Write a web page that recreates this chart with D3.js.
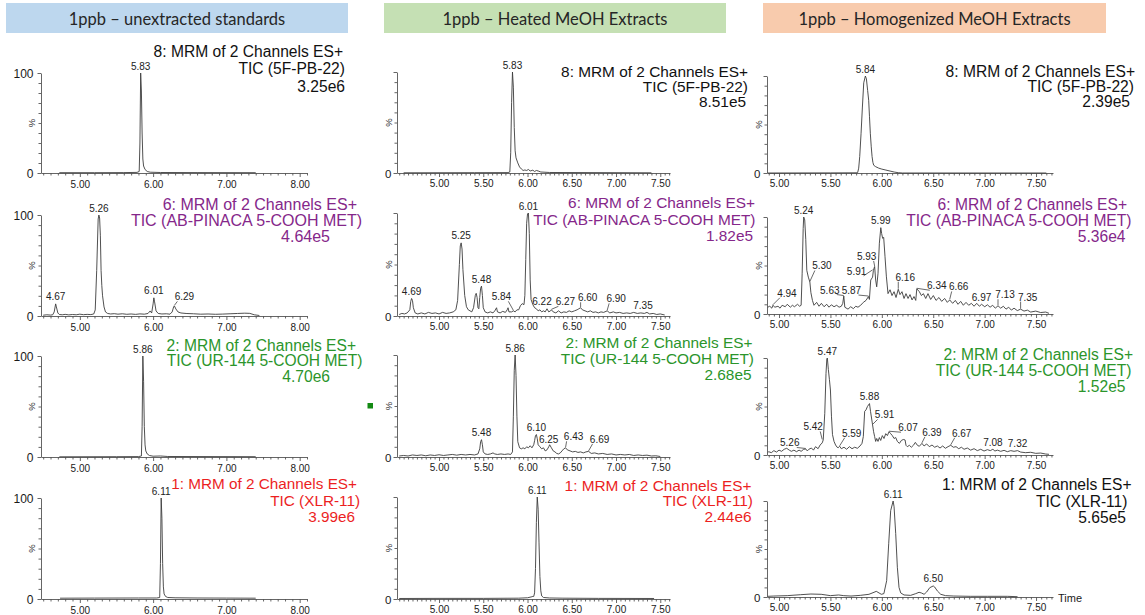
<!DOCTYPE html>
<html>
<head>
<meta charset="utf-8">
<script src="https://cdn.jsdelivr.net/npm/d3@7"></script>
<style>
  html, body { margin: 0; padding: 0; background: #fff; }
  svg { display: block; }
</style>
</head>
<body>
<svg id="chart" width="1145" height="615"></svg>
<script>
// ---------- sample groups ----------
const groupTitles = ["1ppb \u2013 unextracted standards", "1ppb \u2013 Heated MeOH Extracts", "1ppb \u2013 Homogenized MeOH Extracts"];

// ---------- channels (one row each) ----------
const channelNames = ["8: MRM of 2 Channels ES+", "6: MRM of 2 Channels ES+", "2: MRM of 2 Channels ES+", "1: MRM of 2 Channels ES+"];
const ticNames = ["TIC (5F-PB-22)", "TIC (AB-PINACA 5-COOH MET)", "TIC (UR-144 5-COOH MET)", "TIC (XLR-11)"];
const stdIntensity = ["3.25e6", "4.64e5", "4.70e6", "3.99e6"];
const heatIntensity = ["8.51e5", "1.82e5", "2.68e5", "2.44e6"];
const homIntensity = ["2.39e5", "5.36e4", "1.52e5", "5.65e5"];

// ---------- time axis tick labels ----------
const ticksStd = [5.00, 6.00, 7.00, 8.00];
const ticksExt = [5.00, 5.50, 6.00, 6.50, 7.00, 7.50];

// ---------- chromatograms: [retention time (min), relative intensity (%)] ----------
const stdPB22 = [[4.72,0.3],[5.20,0.3],[5.60,0.4],[5.78,0.6],[5.81,1.5],[5.82,30],[5.83,100],[5.84,82],[5.85,40],[5.86,14],[5.87,7],[5.89,3.5],[5.92,1.5],[5.96,0.8],[6.10,0.5],[6.60,0.4],[7.40,0.3]];
const stdABP = [[4.50,0.8],[4.55,1.2],[4.60,0.9],[4.63,1.2],[4.65,4],[4.67,12],[4.68,9],[4.70,3],[4.72,1.5],[4.76,1.2],[4.80,1.6],[4.85,1.1],[4.90,1.5],[4.95,1.2],[5.00,1.8],[5.05,1.3],[5.10,1.6],[5.15,1.4],[5.19,2],[5.21,6],[5.23,45],[5.25,96],[5.26,100],[5.27,97],[5.28,80],[5.29,45],[5.30,30],[5.31,20],[5.33,9],[5.35,4],[5.38,2.5],[5.42,2],[5.47,2.3],[5.52,1.8],[5.58,2.2],[5.64,1.7],[5.70,2],[5.76,1.6],[5.82,2.1],[5.88,1.8],[5.93,2.5],[5.96,5],[5.98,3],[6.00,12],[6.01,18],[6.02,14],[6.04,5],[6.07,2.5],[6.12,2],[6.18,2.2],[6.23,1.8],[6.26,4],[6.28,9],[6.29,10],[6.31,7],[6.34,4],[6.38,3],[6.45,2.5],[6.55,2.2],[6.65,1.8],[6.75,2],[6.85,1.7],[6.95,1.9],[7.05,2.2],[7.15,2.5],[7.25,2.8],[7.32,2.6],[7.38,1.2],[7.45,0.5]];
const stdUR144 = [[4.72,0.2],[5.50,0.3],[5.80,0.4],[5.84,1],[5.85,30],[5.86,100],[5.87,75],[5.88,30],[5.89,12],[5.90,6],[5.92,3],[5.95,1.5],[6.00,0.8],[6.10,1],[6.20,0.5],[7.40,0.3]];
const stdXLR11 = [[4.73,0.8],[5.20,0.9],[5.80,1],[6.05,1],[6.09,1.5],[6.10,35],[6.11,100],[6.12,80],[6.13,35],[6.14,12],[6.15,5],[6.17,2.5],[6.20,1.5],[6.30,1.2],[6.60,1],[7.00,0.9],[7.40,0.8]];

const heatPB22 = [[4.60,0.2],[5.40,0.3],[5.78,0.4],[5.80,1],[5.81,20],[5.82,70],[5.83,100],[5.84,85],[5.85,45],[5.86,22],[5.87,15],[5.89,10],[5.91,6],[5.93,4],[5.95,2.5],[5.97,3],[5.99,2.5],[6.01,3.5],[6.03,2],[6.06,2.8],[6.08,1.5],[6.10,2.5],[6.12,2],[6.15,1],[6.25,0.5],[7.00,0.3],[7.40,0.2]];
const heatABP = [[4.55,1.5],[4.58,2.5],[4.61,2],[4.64,3],[4.67,6],[4.68,14],[4.69,17],[4.70,15],[4.71,8],[4.73,3],[4.76,2],[4.80,3],[4.84,2],[4.88,3.5],[4.92,2.5],[4.96,3],[5.00,2],[5.04,3.5],[5.08,2.5],[5.12,3],[5.16,4],[5.19,6],[5.21,15],[5.23,50],[5.24,68],[5.25,71],[5.26,65],[5.27,45],[5.29,20],[5.31,9],[5.33,6],[5.35,5],[5.37,4],[5.39,8],[5.41,20],[5.42,22],[5.43,18],[5.44,8],[5.45,7],[5.46,18],[5.47,27],[5.48,29],[5.49,20],[5.50,8],[5.52,4],[5.55,3],[5.58,4],[5.61,3],[5.63,5],[5.65,8],[5.66,4],[5.69,3],[5.72,4.5],[5.75,3.5],[5.77,6],[5.78,8],[5.79,4],[5.82,4],[5.84,5],[5.86,4],[5.88,6],[5.90,6],[5.92,10],[5.94,12],[5.96,11],[5.97,20],[5.98,55],[5.99,90],[6.00,99],[6.01,100],[6.02,80],[6.03,35],[6.04,16],[6.06,11],[6.08,8],[6.10,7],[6.12,5],[6.14,6],[6.16,4],[6.18,5],[6.20,4],[6.22,7],[6.24,4],[6.26,5],[6.27,6],[6.29,4],[6.32,3],[6.35,5],[6.38,3],[6.41,4],[6.44,3.5],[6.47,5],[6.50,4],[6.53,5],[6.56,6],[6.58,7],[6.60,8],[6.62,6],[6.65,5],[6.68,4],[6.71,5],[6.74,3.5],[6.77,4],[6.80,3],[6.83,4],[6.86,3.5],[6.90,5],[6.93,3],[6.97,4],[7.00,3],[7.04,3.5],[7.08,2.5],[7.12,3],[7.16,2.5],[7.20,3.5],[7.24,2.5],[7.28,3],[7.32,2.5],[7.35,3.5],[7.38,2],[7.42,2.5],[7.46,1.5],[7.50,2],[7.55,1]];
const heatUR144 = [[4.55,1],[4.60,1.5],[4.65,1],[4.70,2],[4.75,1.5],[4.80,2],[4.85,1.2],[4.90,2],[4.95,1.5],[5.00,2.2],[5.05,1.5],[5.10,2],[5.15,2.5],[5.20,1.8],[5.25,2.5],[5.30,2],[5.35,2.5],[5.40,2],[5.44,3],[5.46,8],[5.47,15],[5.48,17],[5.49,12],[5.50,5],[5.52,3],[5.55,2.5],[5.58,3],[5.61,4],[5.63,3],[5.66,2.5],[5.70,3],[5.74,2.5],[5.78,3],[5.81,2.5],[5.83,5],[5.84,40],[5.85,85],[5.86,100],[5.87,80],[5.88,40],[5.89,15],[5.91,9],[5.93,8],[5.95,9],[5.97,8],[5.99,10],[6.01,9],[6.03,11],[6.05,9],[6.07,12],[6.08,16],[6.09,21],[6.10,22],[6.11,18],[6.12,12],[6.14,10],[6.16,8],[6.18,9],[6.20,6],[6.22,7],[6.24,10],[6.25,12],[6.27,9],[6.29,6],[6.31,5],[6.33,3.5],[6.35,3],[6.37,4],[6.39,6],[6.41,8],[6.43,9],[6.45,7],[6.48,6],[6.51,5],[6.54,5.5],[6.57,4.5],[6.60,5],[6.63,4],[6.66,5],[6.69,5.5],[6.72,3.5],[6.76,4],[6.80,3],[6.85,3.5],[6.90,2.5],[6.95,3],[7.00,2],[7.05,2.5],[7.10,2],[7.15,2.5],[7.20,1.5],[7.25,2],[7.30,1.5],[7.35,1.8],[7.40,1],[7.45,1.2],[7.50,0.5]];
const heatXLR11 = [[4.55,0.5],[5.00,0.6],[5.50,0.6],[5.90,0.8],[6.00,1.2],[6.04,2],[6.06,2.5],[6.07,2.5],[6.08,6],[6.09,30],[6.10,75],[6.11,100],[6.12,88],[6.13,55],[6.14,22],[6.15,8],[6.16,3],[6.18,1.5],[6.25,1],[6.40,0.8],[6.80,0.6],[7.43,0.5]];

const homPB22 = [[4.89,0],[5.50,0.1],[5.75,0.2],[5.765,0.5],[5.775,5],[5.785,17],[5.798,41],[5.811,68],[5.824,93],[5.84,100],[5.85,97],[5.862,85],[5.872,75],[5.88,58],[5.888,41],[5.897,27],[5.905,17],[5.913,11],[5.921,8],[5.94,6.5],[5.97,5],[6.00,4],[6.04,3],[6.08,2],[6.12,1],[6.16,0.3],[6.20,0],[7.60,0]];
const homABP = [[4.89,7],[4.91,8],[4.93,6],[4.94,9],[4.96,7],[4.99,8],[5.01,6],[5.03,9],[5.06,7.5],[5.08,10],[5.11,7],[5.13,9],[5.15,7.5],[5.18,10],[5.20,8],[5.215,9],[5.225,42],[5.235,88],[5.24,100],[5.25,97],[5.26,77],[5.27,45],[5.285,38],[5.30,33],[5.31,22],[5.325,14],[5.34,9],[5.366,12],[5.389,8],[5.412,11],[5.438,7.5],[5.464,10],[5.486,7],[5.509,9.5],[5.535,7.5],[5.561,9],[5.584,7],[5.606,8],[5.62,11],[5.63,18.5],[5.64,7],[5.671,5],[5.697,7.5],[5.723,5.5],[5.746,8],[5.768,7],[5.794,9],[5.82,12],[5.846,14],[5.87,18],[5.879,15],[5.892,35],[5.91,38],[5.918,45],[5.93,49],[5.94,35],[5.95,28],[5.963,42],[5.976,73],[5.99,89],[5.998,83],[6.008,78],[6.018,79],[6.031,59],[6.044,39],[6.06,21],[6.08,25],[6.099,19],[6.119,23],[6.138,17],[6.16,25.5],[6.177,20],[6.196,23],[6.216,16],[6.235,21],[6.255,16],[6.274,20],[6.294,14.5],[6.313,18],[6.33,14],[6.34,26],[6.365,23],[6.385,19],[6.404,21],[6.427,16],[6.449,21],[6.475,15],[6.501,19],[6.527,14],[6.556,17],[6.582,13],[6.611,16],[6.637,12],[6.66,14.5],[6.689,11],[6.715,14],[6.741,10],[6.767,13],[6.793,9],[6.819,12],[6.845,9],[6.871,11],[6.897,8],[6.923,11],[6.949,8],[6.97,10],[7.001,7.5],[7.027,9.5],[7.053,7],[7.078,9],[7.104,6],[7.13,8.5],[7.156,6],[7.182,8],[7.208,5],[7.234,7],[7.26,4],[7.286,6],[7.318,3.5],[7.35,5],[7.383,3],[7.416,4],[7.448,2],[7.497,3],[7.545,1.5],[7.594,2],[7.626,0.7]];
const homUR144 = [[4.89,2.4],[4.90,3.4],[4.925,2.4],[4.95,4.5],[4.975,3],[5.00,5],[5.025,3.8],[5.05,5.9],[5.075,6.9],[5.10,5],[5.12,3.8],[5.145,5],[5.17,3.4],[5.195,5],[5.215,3.8],[5.24,5.9],[5.26,6.2],[5.275,4.2],[5.29,5.9],[5.315,7.2],[5.335,5],[5.355,8.6],[5.38,6.5],[5.40,10.3],[5.42,12.5],[5.43,15.5],[5.445,43],[5.457,84],[5.465,99],[5.47,100],[5.48,88],[5.49,78],[5.50,67],[5.51,40],[5.52,21],[5.535,14],[5.55,10.3],[5.565,8],[5.575,7.5],[5.59,9],[5.606,6.5],[5.632,8],[5.658,5.9],[5.684,8.6],[5.71,6.5],[5.736,8],[5.762,6.9],[5.788,9.3],[5.807,12],[5.82,19],[5.833,45],[5.846,46.5],[5.86,50],[5.88,53],[5.89,45],[5.91,31],[5.92,24],[5.93,19],[5.94,14],[5.95,17],[5.963,14],[5.976,18],[5.989,15],[6.005,20],[6.021,17],[6.038,22],[6.054,20],[6.07,24],[6.086,22],[6.102,20],[6.119,17],[6.135,18],[6.151,14],[6.171,12],[6.19,15],[6.209,16],[6.226,15.5],[6.235,10],[6.248,8.6],[6.268,10],[6.287,8],[6.307,10],[6.326,13],[6.346,10],[6.365,9],[6.39,12],[6.411,9.3],[6.436,11.4],[6.462,8.6],[6.488,10.3],[6.514,8],[6.54,9.3],[6.566,7.2],[6.592,9.3],[6.618,6.9],[6.644,8.6],[6.67,10],[6.696,8],[6.722,8.6],[6.748,6.5],[6.774,8],[6.80,5.9],[6.832,7.2],[6.864,5],[6.897,6.5],[6.929,4.5],[6.962,5.9],[6.994,4.1],[7.027,5.5],[7.055,4.5],[7.08,5.9],[7.10,4.1],[7.124,5],[7.156,3.8],[7.189,4.8],[7.221,3.4],[7.254,4.5],[7.286,3.8],[7.32,4.5],[7.351,3],[7.399,2.4],[7.448,2.8],[7.497,1.7],[7.545,2],[7.594,1],[7.626,0.7]];
const homXLR11 = [[4.89,0.7],[4.95,1],[5.08,1.4],[5.21,2.4],[5.31,3.1],[5.41,2.8],[5.50,1.4],[5.58,2.1],[5.63,1.4],[5.70,1],[5.79,1.7],[5.875,2.8],[5.924,4.9],[5.946,5.9],[5.973,4.2],[5.995,2.8],[6.02,3.5],[6.047,17],[6.067,56],[6.086,90],[6.11,100],[6.119,94],[6.135,66],[6.151,31],[6.167,10],[6.184,4.2],[6.216,2.1],[6.28,1.7],[6.33,3.5],[6.362,4.9],[6.385,4.2],[6.411,2.8],[6.436,5.2],[6.466,9.7],[6.50,11.5],[6.514,10.4],[6.54,6.3],[6.573,2.8],[6.62,1.4],[6.70,1],[6.86,0.7],[7.03,0.7],[7.22,0.7],[7.32,0.3]];

// ---------- labelled peak retention times ----------
const peaksStd = [[5.83], [4.67, 5.26, 6.01, 6.29], [5.86], [6.11]];
const peaksHeat = [[5.83], [4.69, 5.25, 5.48, 5.84, 6.01, 6.22, 6.27, 6.60, 6.90, 7.35], [5.48, 5.86, 6.10, 6.25, 6.43, 6.69], [6.11]];
const peaksHom = [[5.84], [4.94, 5.24, 5.30, 5.63, 5.87, 5.91, 5.93, 5.99, 6.16, 6.34, 6.66, 6.97, 7.13, 7.35], [5.26, 5.42, 5.47, 5.59, 5.88, 5.91, 6.07, 6.39, 6.67, 7.08, 7.32], [6.11, 6.50]];

// ---------- layout ----------
const PURPLE = "#85278a", GREEN = "#2b952b", RED = "#ec1f1f", BLACK = "#111";
const titleColors = [[BLACK, PURPLE, GREEN, RED], [BLACK, PURPLE, GREEN, RED], [BLACK, PURPLE, GREEN, BLACK]];
const headerFills = ["#bdd7ee", "#c5e0b4", "#f8cbad"];
const headerBoxes = [[6, 342], [384, 342], [763, 343]];

const columns = [
  { domain: [4.47, 8.10], range: [41, 307], ticks: ticksStd, minorStep: 0.1, labelTop: true, yPad: 4, ySize: 12, pctX: 31, xLabelY: 11 },
  { domain: [4.525, 7.61], range: [397, 670], ticks: ticksExt, minorStep: 0.05, labelTop: false, yPad: 2, ySize: 11.5, pctX: 388, xLabelY: 10 },
  { domain: [4.883, 7.665], range: [767, 1053], ticks: ticksExt, minorStep: 0.05, labelTop: false, yPad: 3, ySize: 11.5, pctX: 758, xLabelY: 10 }
];
const rows = [
  [[73, 173], [215, 316], [356, 457], [498, 599]],
  [[72, 173], [213, 316], [355, 457], [497, 599]],
  [[76, 173], [217, 314], [358, 455], [501, 597]]
];
// title block: right edges and vertical centres of the three lines, font size
const titleBlocks = [
  [ { r: [343, 345, 345], y: [51, 68, 86], s: 15.6 },
    { r: [357, 362, 330], y: [204, 220.5, 236.5], s: 16 },
    { r: [356, 362.5, 330], y: [345.5, 360.5, 376], s: 15.6 },
    { r: [357, 360, 355], y: [483, 500, 516], s: 15.3 } ],
  [ { r: [748, 748, 746], y: [71.5, 86.5, 101.5], s: 15.4 },
    { r: [755, 755.5, 753], y: [202.5, 219.5, 235.5], s: 15.4 },
    { r: [752.5, 754, 751.5], y: [342.5, 358.5, 374], s: 15.4 },
    { r: [751.5, 753, 751.5], y: [485, 500, 516], s: 15.4 } ],
  [ { r: [1135, 1134, 1130], y: [71, 86, 101], s: 15.6 },
    { r: [1127, 1131.5, 1125.5], y: [204, 220.5, 236.5], s: 15.6 },
    { r: [1133, 1131.5, 1125.5], y: [354, 370, 386], s: 15.6 },
    { r: [1131.5, 1127.5, 1126], y: [484, 501, 517.5], s: 15.6 } ]
];
// offset of peak labels that sit away from their peak (with a leader line)
const labelNudge = {
  "0-1-6.29": [10, -2],
  "1-1-5.84": [-12, -7], "1-1-6.22": [-5, 0], "1-1-6.27": [14, -1], "1-1-6.60": [7, -3],
  "1-1-6.90": [9, -5], "1-1-7.35": [-4, 0],
  "1-2-6.43": [8, -4], "1-2-6.69": [11, -5], "1-2-6.25": [-1, 2],
  "2-1-4.94": [14, -5], "2-1-5.30": [12, -9], "2-1-5.63": [-14, 1], "2-1-5.87": [-17, 1],
  "2-1-5.91": [-16, 8], "2-1-5.93": [-8, -3], "2-1-6.16": [7, -5], "2-1-6.34": [20, 4],
  "2-1-6.66": [9, -6], "2-1-7.13": [7, -4], "2-1-7.35": [7, -5],
  "2-2-5.26": [-16, 1], "2-2-5.42": [-9, -6], "2-2-5.59": [12, -6], "2-2-5.91": [12, -3],
  "2-2-6.07": [19, 3], "2-2-6.39": [10, -4], "2-2-6.67": [11, -5]
};

const traces = [
  [stdPB22, stdABP, stdUR144, stdXLR11],
  [heatPB22, heatABP, heatUR144, heatXLR11],
  [homPB22, homABP, homUR144, homXLR11]
];
const intensities = [stdIntensity, heatIntensity, homIntensity];
const peakSets = [peaksStd, peaksHeat, peaksHom];

const FONT = "'Liberation Sans', Arial, Helvetica, sans-serif";
const svg = d3.select("#chart");
const fmt = d3.format(".2f");

// ---------- group header boxes ----------
groupTitles.forEach((t, i) => {
  const [bx, bw] = headerBoxes[i];
  svg.append("rect").attr("x", bx).attr("y", 3).attr("width", bw).attr("height", 30)
    .attr("fill", headerFills[i]);
  svg.append("text").attr("x", bx + bw / 2).attr("y", 18.5)
    .attr("text-anchor", "middle").attr("dominant-baseline", "central")
    .attr("font-family", "Lato, 'Open Sans', sans-serif").attr("font-size", 16.5)
    .attr("fill", "#262626").text(t);
});

// ---------- chromatogram panels ----------
columns.forEach((col, ci) => {
  rows[ci].forEach((rowY, ri) => {
    const x = d3.scaleLinear().domain(col.domain).range(col.range);
    const y = d3.scaleLinear().domain([0, 100]).range([rowY[1], rowY[0]]);
    const g = svg.append("g");

    // time axis: minor ticks, then labelled major ticks
    const lo = Math.ceil(col.domain[0] / col.minorStep - 1e-9);
    const hi = Math.floor(col.domain[1] / col.minorStep + 1e-9);
    const minor = d3.range(lo, hi + 1).map(i => +(i * col.minorStep).toFixed(3))
      .filter(v => !col.ticks.some(t => Math.abs(t - v) < 1e-6));
    const gx = g.append("g").attr("transform", `translate(0,${rowY[1]})`);
    gx.call(d3.axisBottom(x).tickValues(minor).tickSize(2.5).tickSizeOuter(0).tickFormat(""));
    const gxm = gx.append("g").call(d3.axisBottom(x).tickValues(col.ticks).tickSize(4).tickSizeOuter(0).tickFormat(fmt));
    gxm.select(".domain").remove();
    gxm.selectAll("text").attr("y", col.xLabelY).attr("dy", null)
      .attr("dominant-baseline", "central").attr("font-size", 10).attr("fill", "#1a1a1a");

    // intensity axis
    const gy = g.append("g").attr("transform", `translate(${col.range[0]},0)`);
    gy.call(d3.axisLeft(y).tickValues(d3.range(10, 100, 10)).tickSize(2.5).tickSizeOuter(0).tickFormat(""));
    const shown = col.labelTop ? [0, 100] : [0];
    const gym = gy.append("g").call(d3.axisLeft(y).tickValues([0, 100]).tickSize(3.5).tickPadding(col.yPad)
      .tickFormat(d => shown.includes(d) ? d : ""));
    gym.select(".domain").remove();
    gym.selectAll("text").attr("dy", null).attr("dominant-baseline", "central")
      .attr("font-size", col.ySize).attr("fill", "#1a1a1a");
    g.selectAll(".domain, .tick line").attr("stroke", "#555").attr("stroke-width", 0.9);
    g.selectAll("g").attr("font-family", FONT);
    g.append("text").attr("transform", `translate(${col.pctX},${y(50)}) rotate(-90)`)
      .attr("text-anchor", "middle").attr("dominant-baseline", "central")
      .attr("font-family", FONT).attr("font-size", 9.5).attr("fill", "#333").text("%");

    // trace
    const data = traces[ci][ri];
    g.append("path").datum(data)
      .attr("fill", "none").attr("stroke", "#3c3c3c").attr("stroke-width", 0.9)
      .attr("stroke-linejoin", "round")
      .attr("d", d3.line().x(d => x(d[0])).y(d => y(d[1])));

    // peak labels
    peakSets[ci][ri].forEach(t => {
      const near = data.filter(d => Math.abs(d[0] - t) <= 0.0121);
      const v = near.length ? d3.max(near, d => d[1]) : 0;
      const px = x(t), py = y(v);
      const [dx, dy] = labelNudge[`${ci}-${ri}-${fmt(t)}`] || [0, 0];
      const lx = px + dx, ly = py - 7 + dy;
      if (Math.abs(dx) >= 8 || Math.abs(dy) >= 3) {
        const ex = lx - Math.sign(dx) * Math.min(7, Math.abs(dx));
        g.append("line").attr("x1", px).attr("y1", py - 0.5).attr("x2", ex).attr("y2", ly + 4.5)
          .attr("stroke", "#444").attr("stroke-width", 0.8);
      }
      g.append("text").attr("x", lx).attr("y", ly)
        .attr("text-anchor", "middle").attr("dominant-baseline", "central")
        .attr("font-family", FONT).attr("font-size", 10).attr("fill", "#222")
        .text(fmt(t));
    });

    // channel title block
    const tb = titleBlocks[ci][ri];
    const lines = [channelNames[ri], ticNames[ri], intensities[ci][ri]];
    lines.forEach((s, k) => {
      g.append("text").attr("x", tb.r[k]).attr("y", tb.y[k])
        .attr("text-anchor", "end").attr("dominant-baseline", "central")
        .attr("font-family", FONT).attr("font-size", tb.s)
        .attr("fill", titleColors[ci][ri]).text(s);
    });

    if (ci === 2 && ri === 3) {
      g.append("text").attr("x", col.range[1] + 5).attr("y", rowY[1] + 1)
        .attr("dominant-baseline", "central").attr("font-family", FONT)
        .attr("font-size", 11).attr("fill", "#1a1a1a").text("Time");
    }
  });
});

// small green marker between the standard and heated UR-144 traces
svg.append("rect").attr("x", 367.5).attr("y", 403).attr("width", 5.5).attr("height", 5.5).attr("fill", "#138a13");
</script>
</body>
</html>
